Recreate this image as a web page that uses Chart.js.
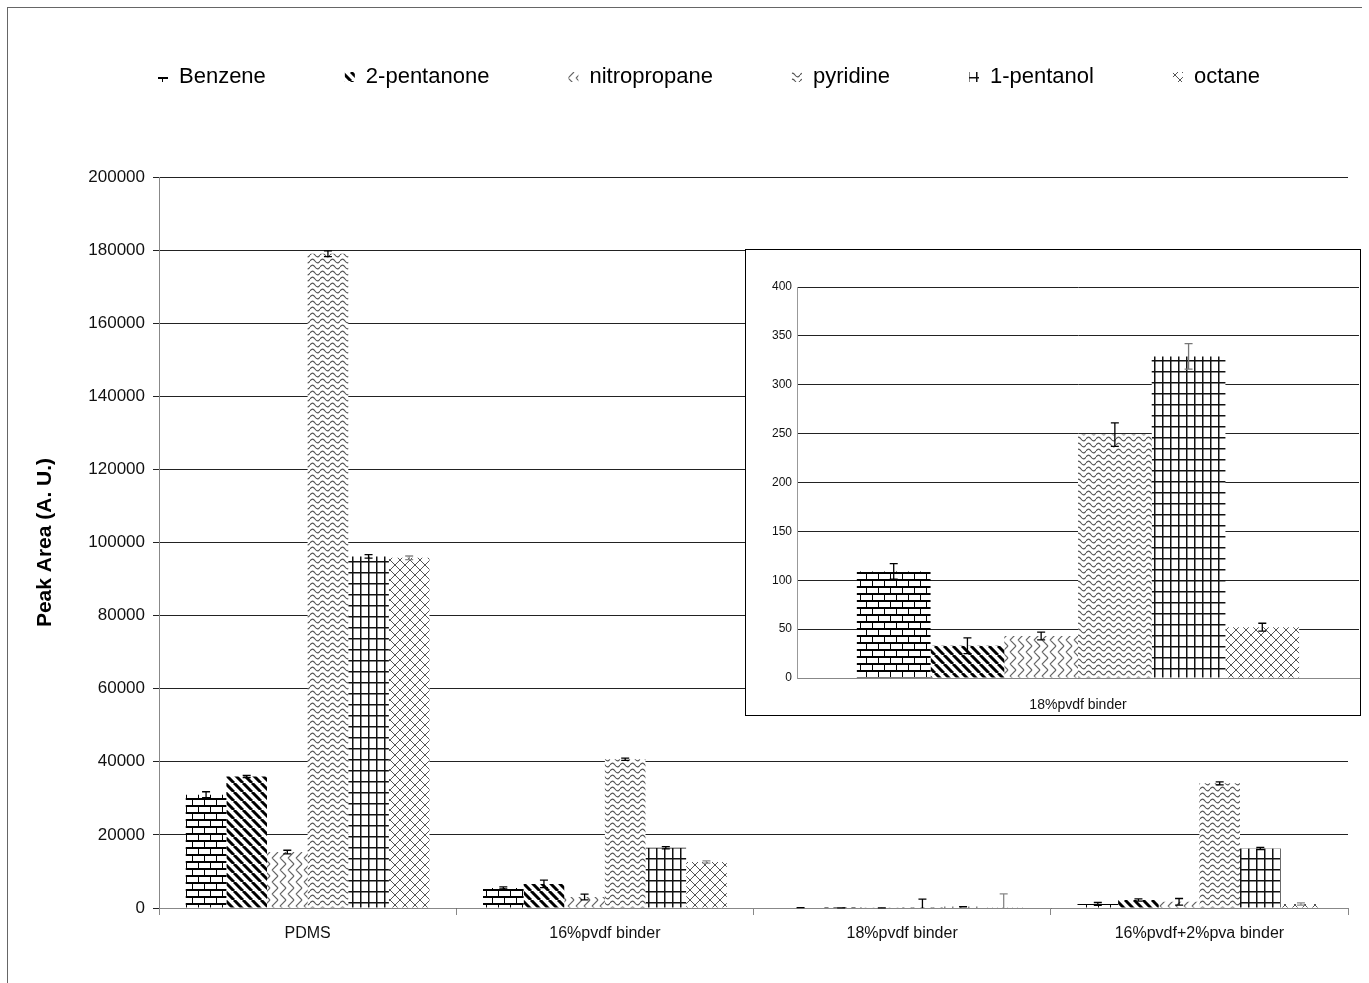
<!DOCTYPE html>
<html>
<head>
<meta charset="utf-8">
<script src="https://cdn.jsdelivr.net/npm/chart.js@4"></script>
<style>
  body { margin: 0; background: #fff; }
  #frame { position: absolute; left: 7px; top: 7px; width: 1354px; height: 1000px; border-left: 1px solid #666; border-top: 1px solid #666; }
  #main { position: absolute; left: 0; top: 0; }
  #insetBox { position: absolute; left: 745px; top: 249px; width: 614px; height: 465px; border: 1px solid #000; background: #fff; }
  #inset { display: block; }
</style>
</head>
<body>
<div id="frame"></div>
<canvas id="main" width="1369" height="983"></canvas>
<div id="insetBox"><canvas id="inset" width="614" height="465"></canvas></div>
<script>
// --- data ---
const groups = ['PDMS', '16%pvdf binder', '18%pvdf binder', '16%pvdf+2%pva binder'];
const compounds = ['Benzene', '2-pentanone', 'nitropropane', 'pyridine', '1-pentanol', 'octane'];

const benzene      = [31000, 5500, 109, 1100];
const pentanone    = [36000, 6600, 33, 2200];
const nitropropane = [15300, 3000, 43, 1700];
const pyridine     = [179000, 40700, 249, 34100];
const pentanol     = [96200, 16500, 329, 16300];
const octane       = [95800, 12600, 52, 1100];

const benzeneErr      = [800, 300, 8, 400];
const pentanoneErr    = [300, 1000, 8, 300];
const nitropropaneErr = [500, 800, 5, 900];
const pyridineErr     = [800, 300, 2200, 400];
const pentanolErr     = [500, 300, 13, 300];
const octaneErr       = [500, 300, 3800, 300];

// inset: 18%pvdf binder on its own scale
const insetGroup = ['18%pvdf binder'];
const insetErr = [8, 8, 4, 12, 13, 4];

const mainTicks = [0, 20000, 40000, 60000, 80000, 100000, 120000, 140000, 160000, 180000, 200000];
const insetTicks = [0, 50, 100, 150, 200, 250, 300, 350, 400];

const series = [benzene, pentanone, nitropropane, pyridine, pentanol, octane];
const seriesErr = [benzeneErr, pentanoneErr, nitropropaneErr, pyridineErr, pentanolErr, octaneErr];

// --- hatch patterns ---
function makePattern(w, h, draw) {
  const c = document.createElement('canvas');
  c.width = w; c.height = h;
  const g = c.getContext('2d');
  g.fillStyle = '#fff';
  g.fillRect(0, 0, w, h);
  draw(g, w, h);
  return g.createPattern(c, 'repeat');
}

const patterns = [
  // brick
  makePattern(12, 14, (g) => {
    g.fillStyle = '#000';
    g.fillRect(0, 0, 12, 2);
    g.fillRect(0, 7, 12, 2);
    g.fillRect(0, 0, 1, 7);
    g.fillRect(6, 7, 1, 7);
  }),
  // thick back-slash stripes
  makePattern(9, 9, (g) => {
    g.strokeStyle = '#000'; g.lineWidth = 3;
    g.beginPath();
    [-9, 0, 9].forEach(k => { g.moveTo(k, 0); g.lineTo(k + 9, 9); });
    g.stroke();
  }),
  // light chevrons
  makePattern(8, 12, (g) => {
    g.strokeStyle = '#666'; g.lineWidth = 1.2;
    g.beginPath();
    [-8, 0, 8].forEach(k => {
      g.moveTo(k, 6); g.lineTo(k + 6, 0);
      g.moveTo(k, 6); g.lineTo(k + 6, 12);
    });
    g.stroke();
  }),
  // waves
  makePattern(10, 6, (g) => {
    g.strokeStyle = '#555'; g.lineWidth = 1.1;
    g.beginPath();
    g.moveTo(0, 3);
    g.quadraticCurveTo(2.5, -0.8, 5, 3);
    g.quadraticCurveTo(7.5, 6.8, 10, 3);
    g.stroke();
  }),
  // grid
  makePattern(8, 11, (g) => {
    g.fillStyle = '#111';
    g.fillRect(0, 0, 1.5, 11);
    g.fillRect(0, 0, 8, 1.5);
  }),
  // lattice
  makePattern(10, 10, (g) => {
    g.strokeStyle = '#555'; g.lineWidth = 1;
    g.beginPath();
    g.moveTo(0, 0); g.lineTo(10, 10);
    g.moveTo(10, 0); g.lineTo(0, 10);
    g.stroke();
  })
];

const FONT = '"Liberation Sans", Arial, sans-serif';

// --- error bars drawn through the y scale ---
function errorBars(errs, colors) {
  return {
    id: 'errorBars',
    afterDatasetsDraw(chart) {
      const ctx = chart.ctx;
      const y = chart.scales.y;
      chart.data.datasets.forEach((ds, i) => {
        chart.getDatasetMeta(i).data.forEach((bar, j) => {
          const v = ds.data[j], e = errs[i][j];
          const top = y.getPixelForValue(v + e);
          const bot = y.getPixelForValue(Math.max(0, v - e));
          ctx.save();
          ctx.strokeStyle = colors[i];
          ctx.lineWidth = 1.3;
          ctx.beginPath();
          ctx.moveTo(bar.x, top); ctx.lineTo(bar.x, bot);
          ctx.moveTo(bar.x - 4, top); ctx.lineTo(bar.x + 4, top);
          if (v - e > 0) { ctx.moveTo(bar.x - 4, bot); ctx.lineTo(bar.x + 4, bot); }
          ctx.stroke();
          ctx.restore();
        });
      });
    }
  };
}

// legend spread out across the top
const legendPlacer = {
  id: 'legendPlacer',
  afterInit(chart) {
    const lg = chart.legend;
    const fit = lg.fit;
    lg.fit = function () { fit.call(this); this.height = 177; };
  },
  afterLayout(chart) {
    const lg = chart.legend;
    lg.top -= 13; lg.bottom -= 13;
    lg.left += 20; lg.right += 20;
  }
};

const mainChart = new Chart(document.getElementById('main'), {
  type: 'bar',
  data: {
    labels: groups,
    datasets: compounds.map((name, i) => ({
      label: name,
      data: series[i],
      backgroundColor: patterns[i],
      borderWidth: 0,
      categoryPercentage: 0.82,
      barPercentage: 1
    }))
  },
  options: {
    responsive: false,
    animation: false,
    layout: { padding: { left: 30, right: 21, top: 0, bottom: 35 } },
    plugins: {
      tooltip: { enabled: false },
      legend: {
        position: 'top',
        labels: { boxWidth: 10, boxHeight: 10, padding: 79, color: '#000', font: { family: FONT, size: 22 } }
      }
    },
    scales: {
      x: {
        grid: { display: true, drawOnChartArea: false, drawTicks: true, tickLength: 7, color: '#888' },
        border: { display: true, color: '#888' },
        ticks: { color: '#111', padding: 9, font: { family: FONT, size: 16 } },
        afterFit(s) { s.height = 40; }
      },
      y: {
        min: 0, max: 200000,
        afterBuildTicks(s) { s.ticks = mainTicks.map(v => ({ value: v })); },
        grid: { color: '#222', lineWidth: 1, tickLength: 6 },
        border: { display: true, color: '#888' },
        ticks: { color: '#111', padding: 8, font: { family: FONT, size: 17 }, callback: v => String(v) },
        title: { display: true, text: 'Peak Area (A. U.)', color: '#000', padding: { top: 3, bottom: 20 }, font: { family: FONT, size: 21, weight: 'bold' } },
        afterFit(s) { s.width = 129; }
      }
    }
  },
  plugins: [legendPlacer, errorBars(seriesErr, ['#000', '#000', '#000', '#000', '#000', '#888'])]
});

const insetChart = new Chart(document.getElementById('inset'), {
  type: 'bar',
  data: {
    labels: insetGroup,
    datasets: compounds.map((name, i) => ({
      label: name,
      data: [series[i][2]],
      backgroundColor: patterns[i],
      borderWidth: 0,
      categoryPercentage: 0.787,
      barPercentage: 1
    }))
  },
  options: {
    responsive: false,
    animation: false,
    layout: { padding: { left: 0, right: 1, top: 37, bottom: 0 } },
    plugins: { legend: { display: false }, tooltip: { enabled: false } },
    scales: {
      x: {
        grid: { display: false },
        border: { display: true, color: '#888' },
        ticks: { color: '#111', padding: 11, font: { family: FONT, size: 14 } },
        afterFit(s) { s.height = 37; }
      },
      y: {
        min: 0, max: 400,
        afterBuildTicks(s) { s.ticks = insetTicks.map(v => ({ value: v })); },
        grid: { color: '#222', lineWidth: 1, drawTicks: false },
        border: { display: true, color: '#999' },
        ticks: { color: '#111', padding: 5, font: { family: FONT, size: 12 } },
        afterFit(s) { s.width = 51; }
      }
    }
  },
  plugins: [errorBars(insetErr.map(e => [e]), ['#000', '#000', '#000', '#000', '#777', '#000'])]
});
</script>
</body>
</html>
